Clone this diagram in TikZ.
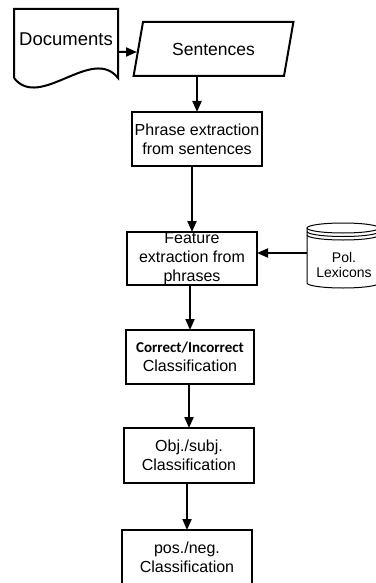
\documentclass[tikz,border=0pt]{standalone}
\usepackage{fontspec}
\setmainfont{Liberation Sans}
\newfontfamily\calibfont{Carlito}
\usetikzlibrary{arrows.meta,shapes.geometric}
\begin{document}
\begin{tikzpicture}[x=1pt,y=-1pt,
  thickline/.style={line width=2pt},
  procbox/.style={draw,thickline,inner sep=0pt,outer sep=0pt,align=center,
    font=\fontsize{16}{19}\selectfont},
  txt/.style={inner sep=0pt,align=center,font=\fontsize{16}{19}\selectfont},
  ghost/.style={inner sep=0pt,outer sep=0pt},
  arr/.style={thickline,-{Triangle[length=11pt,width=9pt]}},
  thinline/.style={line width=1pt}]
\useasboundingbox (0,0) rectangle (375,583);

% Documents
\node[ghost,minimum width=104pt,minimum height=69pt] (doc) at (66,43.5) {};
\draw[thickline,line join=miter] (doc.south west) -- (doc.north west) -- (doc.north east) -- (doc.south east)
  .. controls (92,45) and (40,111) .. (doc.south west);
\node[txt,font=\fontsize{18.5}{22}\selectfont] (doctxt) at (66,39) {Documents};

% Sentences
\node[trapezium,trapezium left angle=66,trapezium right angle=114,trapezium stretches=true,
  draw,thickline,inner sep=0pt,outer sep=0pt,minimum width=161pt,minimum height=54pt,
  font=\fontsize{17.5}{21}\selectfont] (sent) at (213.5,49) {Sentences};

% Process boxes
\node[procbox,minimum width=130pt,minimum height=54pt] (phrase) at (197,139) {Phrase extraction\\from sentences};
\node[procbox,minimum width=130pt,minimum height=53pt] (feat) at (192,258.5) {};
\node[txt] (feattxt) at (feat.center) {Feature\\extraction from\\phrases};
\node[procbox,minimum width=128pt,minimum height=54pt] (corr) at (190,357)
  {{\calibfont\bfseries\fontsize{15}{19}\selectfont Correct/Incorrect}\\Classification};
\node[procbox,minimum width=130pt,minimum height=55pt] (obj) at (189,455.5) {Obj./subj.\\Classification};
\node[procbox,minimum width=130pt,minimum height=54pt] (pos) at (187,557) {pos./neg.\\Classification};

% Lexicons cylinder
\node[ghost,minimum width=72pt,minimum height=65pt] (lex) at (343,255.5) {};
\draw[thinline] (343,228) ellipse[x radius=36pt,y radius=5pt];
\draw[thinline] (307,231.5) arc[start angle=180,end angle=360,x radius=36pt,y radius=5pt];
\draw[thinline] (307,235) arc[start angle=180,end angle=360,x radius=36pt,y radius=5pt];
\draw[thinline] (307,228) -- (307,283) arc[start angle=180,end angle=360,x radius=36pt,y radius=5pt] -- (379,228);
\node[txt,font=\fontsize{14}{15}\selectfont] (lextxt) at (344,264.5) {Pol.\\Lexicons};

% Connectors
\draw[arr] ([yshift=-8.5pt]doc.east) -- ([yshift=-3pt,xshift=-1.3pt]sent.west);
\draw[arr] (sent.south -| phrase) -- (phrase.north);
\draw[arr] (phrase.south -| feat) -- (feat.north);
\draw[arr] ([yshift=2.5pt]lex.west) -- ([yshift=5.5pt]feat.east);
\draw[arr] (feat.south -| corr) -- (corr.north);
\draw[arr] (corr.south -| obj) -- (obj.north);
\draw[arr] (obj.south -| pos) -- (pos.north);
\end{tikzpicture}
\end{document}
